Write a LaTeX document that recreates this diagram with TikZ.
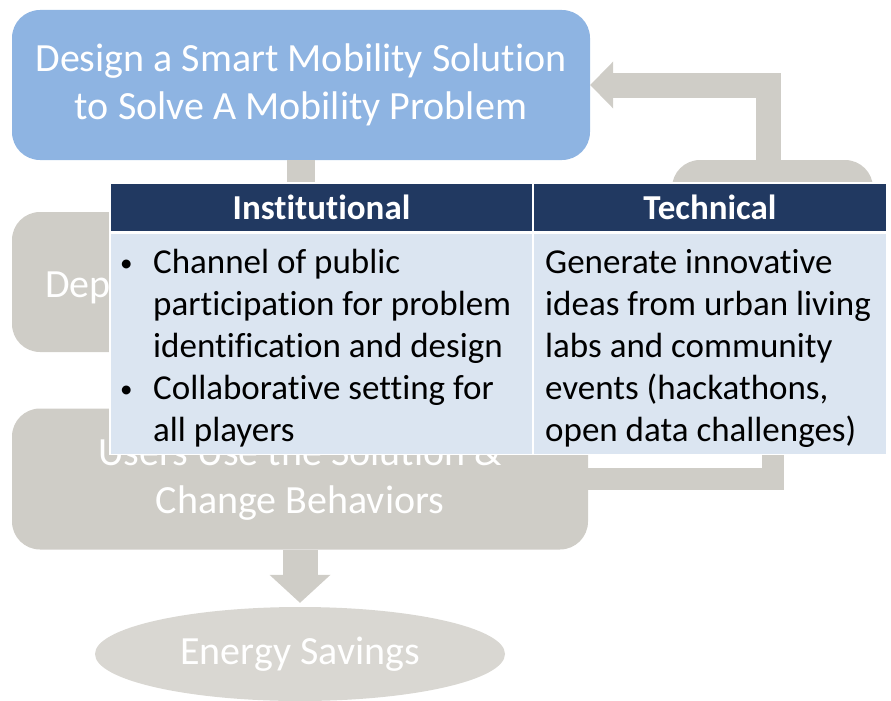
\documentclass[tikz,border=0pt]{standalone}
\usepackage{fontspec}
\setmainfont{Carlito}[Ligatures=NoCommon]
\usepackage{xcolor}
\usetikzlibrary{arrows.meta,shapes.geometric}

\definecolor{stepblue}{RGB}{142,180,226}
\definecolor{stepgray}{RGB}{207,205,199}
\definecolor{savegray}{RGB}{217,215,210}
\definecolor{headnavy}{RGB}{33,57,97}
\definecolor{cellblue}{RGB}{219,229,241}

\newcommand{\cellbullet}{\raisebox{2pt}{\fontsize{25}{25}\selectfont\textbullet}}

\tikzset{
  stepbox/.style={rectangle, rounded corners=28pt, fill=stepgray, text=white,
    minimum width=576pt, inner sep=0pt, align=center, font=\fontsize{40}{48}\selectfont},
  flowbar/.style={draw=stepgray, line width=#1},
  headcell/.style={rectangle, fill=headnavy, draw=white, line width=1.5pt, text=white,
    minimum height=49pt, inner sep=0pt, font=\fontsize{35}{42}\selectfont\bfseries},
  bodycell/.style={rectangle, fill=cellblue, draw=white, line width=1.5pt,
    minimum height=221pt, inner sep=0pt},
  celltext/.style={inner sep=0pt, anchor=base west, font=\fontsize{35}{42}\selectfont}
}

\begin{document}
\begin{tikzpicture}[x=1pt, y=-1pt]
    \useasboundingbox (0,0) rectangle (891,701);

    % Draw the steps
    \node[stepbox, fill=stepblue, minimum width=578pt, minimum height=150pt] (design) at (301,85)
        {Design a Smart Mobility Solution\\to Solve A Mobility Problem};
    \node[stepbox, minimum height=140pt] (deploy) at (300,282) {};
    \node[inner sep=0pt, anchor=base west, text=white, font=\fontsize{40}{48}\selectfont] (deployText) at (45,297) {Dep};
    \node[stepbox, minimum height=141pt] (users) at (300,479) {Users Use the Solution \&\\Change Behaviors};
    \node[stepbox, minimum width=201pt, minimum height=260pt] (evaluate) at (772.5,290) {};
    \node[ellipse, fill=savegray, text=white, minimum width=410pt, minimum height=94pt,
        inner sep=0pt, font=\fontsize{40}{48}\selectfont] (savings) at (300,654) {Energy Savings};

    % Draw the connectors
    \draw[flowbar=28pt] (design.south) -- (design.south |- deploy.north);
    \draw[flowbar=35pt, -{Triangle[width=61pt,length=28pt,line width=0pt]}, shorten >=4pt] (users.south) -- (savings.north);
    \draw[flowbar=22pt] (users.east) -| (evaluate.south);
    \draw[flowbar=25pt, -{Triangle[width=47pt,length=23pt,line width=0pt]}] ([xshift=-4pt]evaluate.north) |- (design.east);

    % Draw the table
    \node[headcell, minimum width=423pt] (instHead) at (321.5,207.5) {Institutional};
    \node[headcell, minimum width=354pt] (techHead) at (710,207.5) {Technical};
    \node[bodycell, minimum width=423pt, anchor=north] (instBody) at (instHead.south) {};
    \node[bodycell, minimum width=354pt, anchor=north] (techBody) at (techHead.south) {};
    \node[celltext] (instText) at (120,273) {\begin{tabular}[t]{@{}p{33pt}@{}l@{}}
        \cellbullet & Channel of public\\
                    & participation for problem\\
                    & identification and design\\
        \cellbullet & Collaborative setting for\\
                    & all players
      \end{tabular}};
    \node[celltext] (techText) at (545,273) {\begin{tabular}[t]{@{}l@{}}
        Generate innovative\\
        ideas from urban living\\
        labs and community\\
        events (hackathons,\\
        open data challenges)
      \end{tabular}};
\end{tikzpicture}
\end{document}
